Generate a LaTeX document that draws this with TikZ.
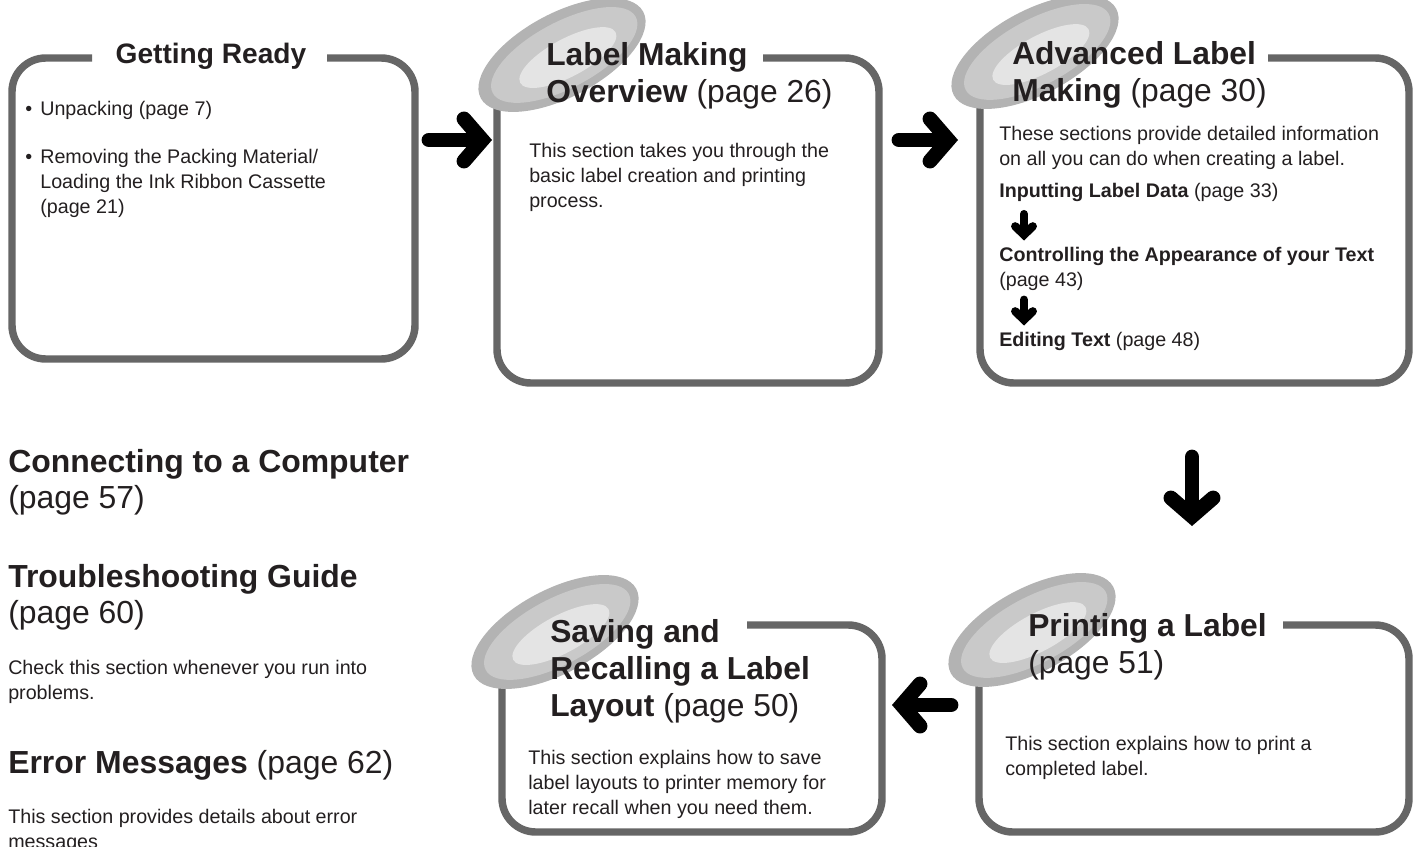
\documentclass[tikz,border=0pt]{standalone}
\usepackage{fontspec}
\setmainfont{Liberation Sans}
\usetikzlibrary{arrows.meta}
\definecolor{inkblack}{HTML}{231F20}
\definecolor{framegray}{HTML}{666666}
\definecolor{discdark}{HTML}{B3B3B3}
\definecolor{discmid}{HTML}{C9C9C9}
\definecolor{disclight}{HTML}{E4E4E4}

\newcommand{\headdisc}[2]{%
  \begin{scope}[shift={(#1,#2)}, rotate=28]
    \fill[discdark]  (0,0) ellipse [x radius=92, y radius=42];
    \fill[discmid]   (2,1) ellipse [x radius=81, y radius=33];
    \fill[disclight] (4,5) ellipse [x radius=54, y radius=19];
  \end{scope}}

\tikzset{
  frame/.style={draw=framegray, line width=5.3pt, rounded corners=24pt},
  headtext/.style={anchor=north west, inner sep=0pt, align=left, text=inkblack, font=\fontsize{22.6pt}{26.3pt}\selectfont},
  sidehead/.style={anchor=north west, inner sep=0pt, align=left, text=inkblack, font=\fontsize{22.7pt}{25.6pt}\selectfont},
  bodytext/.style={anchor=north west, inner sep=0pt, align=left, text=inkblack, font=\fontsize{14pt}{17.8pt}\selectfont},
  bigarrow/.style={line width=10.5pt, line cap=round, -{Straight Barb[length=13pt, width=30pt, line join=miter, line cap=round]}},
  smallarrow/.style={line width=5.9pt, line cap=round, -{Straight Barb[length=6pt, width=12.5pt, line join=miter, line cap=round]}}
}

\begin{document}
\begin{tikzpicture}[x=0.025cm, y=-0.025cm]
                \useasboundingbox (0,0) rectangle (1414,847);

                \draw[frame] (327,58) -- (415,58) -- (415,359) -- (12,359) -- (12,58) -- (92,58);
                \draw[frame] (763,58) -- (879,58) -- (879,383) -- (497,383) -- (497,100);
                \draw[frame] (1268,58) -- (1409,58) -- (1409,383) -- (980,383) -- (980,100);
                \draw[frame] (747,625) -- (882,625) -- (882,832) -- (502,832) -- (502,670);
                \draw[frame] (1283,625) -- (1409,625) -- (1409,832) -- (979,832) -- (979,670);

                \headdisc{562}{55}
                \headdisc{1035}{52}
                \headdisc{555}{632}
                \headdisc{1032}{630}

                \node[anchor=base, inner sep=0pt, text=inkblack, font=\fontsize{20pt}{24pt}\selectfont\bfseries] (ready) at (211,64) {Getting Ready};
                \node[bodytext] (unpack) at (25,97.5)  {\strut\makebox[10.7pt][l]{\textbullet}Unpacking (page 7)};
                \node[bodytext] (ribbon) at (25,145.5) {\strut\makebox[10.7pt][l]{\textbullet}Removing the Packing Material/\\\hspace*{10.7pt}Loading the Ink Ribbon Cassette\\\hspace*{10.7pt}(page 21)};

                \node[headtext] (overview)     at (546,39)    {\strut\textbf{Label Making}\\\textbf{Overview} (page 26)};
                \node[bodytext] (overviewbody) at (529,139.5) {\strut This section takes you through the\\basic label creation and printing\\process.};

                \node[headtext] (advanced)     at (1012,38)   {\strut\textbf{Advanced Label}\\\textbf{Making} (page 30)};
                \node[bodytext] (advancedbody) at (999,122.5) {\strut These sections provide detailed information\\on all you can do when creating a label.};
                \node[bodytext] (inputting)    at (999,179.5) {\strut\textbf{Inputting Label Data} (page 33)};
                \node[bodytext] (appearance)   at (999,243.5) {\strut\textbf{Controlling the Appearance of your Text}\\(page 43)};
                \node[bodytext] (editing)      at (999,328.5) {\strut\textbf{Editing Text} (page 48)};

                \node[headtext] (saving)       at (550,616)   {\strut\textbf{Saving and}\\\textbf{Recalling a Label}\\\textbf{Layout} (page 50)};
                \node[bodytext] (savingbody)   at (528,746.5) {\strut This section explains how to save\\label layouts to printer memory for\\later recall when you need them.};

                \node[headtext] (printing)     at (1028,610)  {\strut\textbf{Printing a Label}\\(page 51)};
                \node[bodytext] (printingbody) at (1005,732.5) {\strut This section explains how to print a\\completed label.};

                \node[sidehead] (computer)     at (8,446.8)   {\strut\textbf{Connecting to a Computer}\\(page 57)};
                \node[sidehead] (trouble)      at (8,561.8)   {\strut\textbf{Troubleshooting Guide}\\(page 60)};
                \node[bodytext] (troublebody)  at (8,656.5)   {\strut Check this section whenever you run into\\problems.};
                \node[sidehead] (errors)       at (8,747.8)   {\strut\textbf{Error Messages} (page 62)};
                \node[bodytext] (errorsbody)   at (8,806)     {\strut This section provides details about error\\messages};

                \coordinate (ready-r)    at (429,140);
                \coordinate (overview-l) at (492,140);
                \coordinate (overview-r) at (899,140);
                \coordinate (advanced-l) at (958,140);
                \coordinate (advanced-b) at (1192,457);
                \coordinate (printing-t) at (1192,526);
                \coordinate (printing-l) at (951,705);
                \coordinate (saving-r)   at (892,705);

                \draw[bigarrow] (ready-r) -- (overview-l);
                \draw[bigarrow] (overview-r) -- (advanced-l);
                \draw[bigarrow] (advanced-b) -- (printing-t);
                \draw[bigarrow] (printing-l) -- (saving-r);

                \draw[smallarrow] ([shift={(25,9)}]inputting.south west) -- ([shift={(25,-3)}]appearance.north west);
                \draw[smallarrow] ([shift={(25,9)}]appearance.south west) -- ([shift={(25,-3)}]editing.north west);
\end{tikzpicture}
\end{document}
